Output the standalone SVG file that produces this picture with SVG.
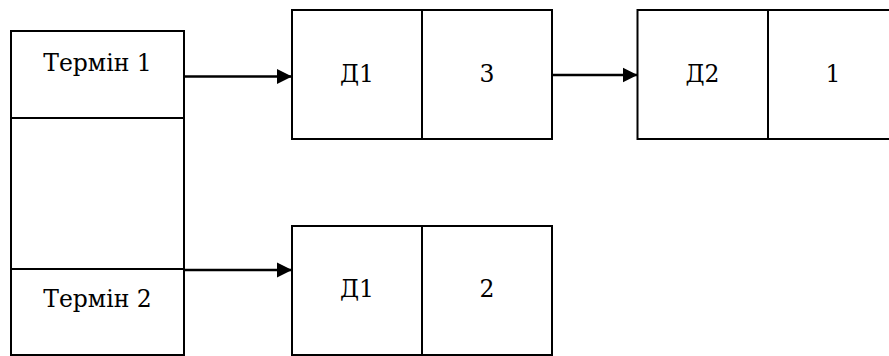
<svg xmlns="http://www.w3.org/2000/svg" width="889" height="356" viewBox="0 0 889 356">
<style>
.b{fill:#fff;stroke:#000;stroke-width:2}
.l{stroke:#000;stroke-width:2;fill:none}
.t{font-family:'DejaVu Serif','Liberation Serif',serif;font-size:23.5px;fill:#000;text-anchor:middle}
.c{stroke:#000;stroke-width:2.5;fill:none}
</style>
<defs>
<marker id="ah" markerUnits="userSpaceOnUse" markerWidth="16" markerHeight="16" refX="15" refY="8" orient="auto">
<path d="M0,0.5 L15,8 L0,15.5 Z" fill="#000"/>
</marker>
</defs>
<g id="terms">
<rect class="b" x="11" y="31" width="173" height="324"/>
<line class="l" x1="11" y1="118" x2="184" y2="118"/>
<line class="l" x1="11" y1="269" x2="184" y2="269"/>
<text class="t" x="97.5" y="71">Термін 1</text>
<text class="t" x="97.5" y="307">Термін 2</text>
</g>
<g id="node1">
<rect class="b" x="292" y="10" width="260" height="129"/>
<line class="l" x1="422" y1="10" x2="422" y2="139"/>
<text class="t" x="357" y="82">Д1</text>
<text class="t" x="487" y="82">3</text>
</g>
<g id="node2">
<rect class="b" x="637.5" y="10" width="261" height="129"/>
<line class="l" x1="768" y1="10" x2="768" y2="139"/>
<text class="t" x="702.5" y="82">Д2</text>
<text class="t" x="833" y="82">1</text>
</g>
<g id="node3">
<rect class="b" x="292" y="226" width="260" height="129"/>
<line class="l" x1="422" y1="226" x2="422" y2="355"/>
<text class="t" x="357" y="297">Д1</text>
<text class="t" x="487" y="297">2</text>
</g>
<g id="connectors">
<line class="c" x1="184" y1="76.5" x2="292" y2="76.5" marker-end="url(#ah)"/>
<line class="c" x1="552" y1="75" x2="637.5" y2="75" marker-end="url(#ah)"/>
<line class="c" x1="184" y1="270" x2="292" y2="270" marker-end="url(#ah)"/>
</g>
</svg>
